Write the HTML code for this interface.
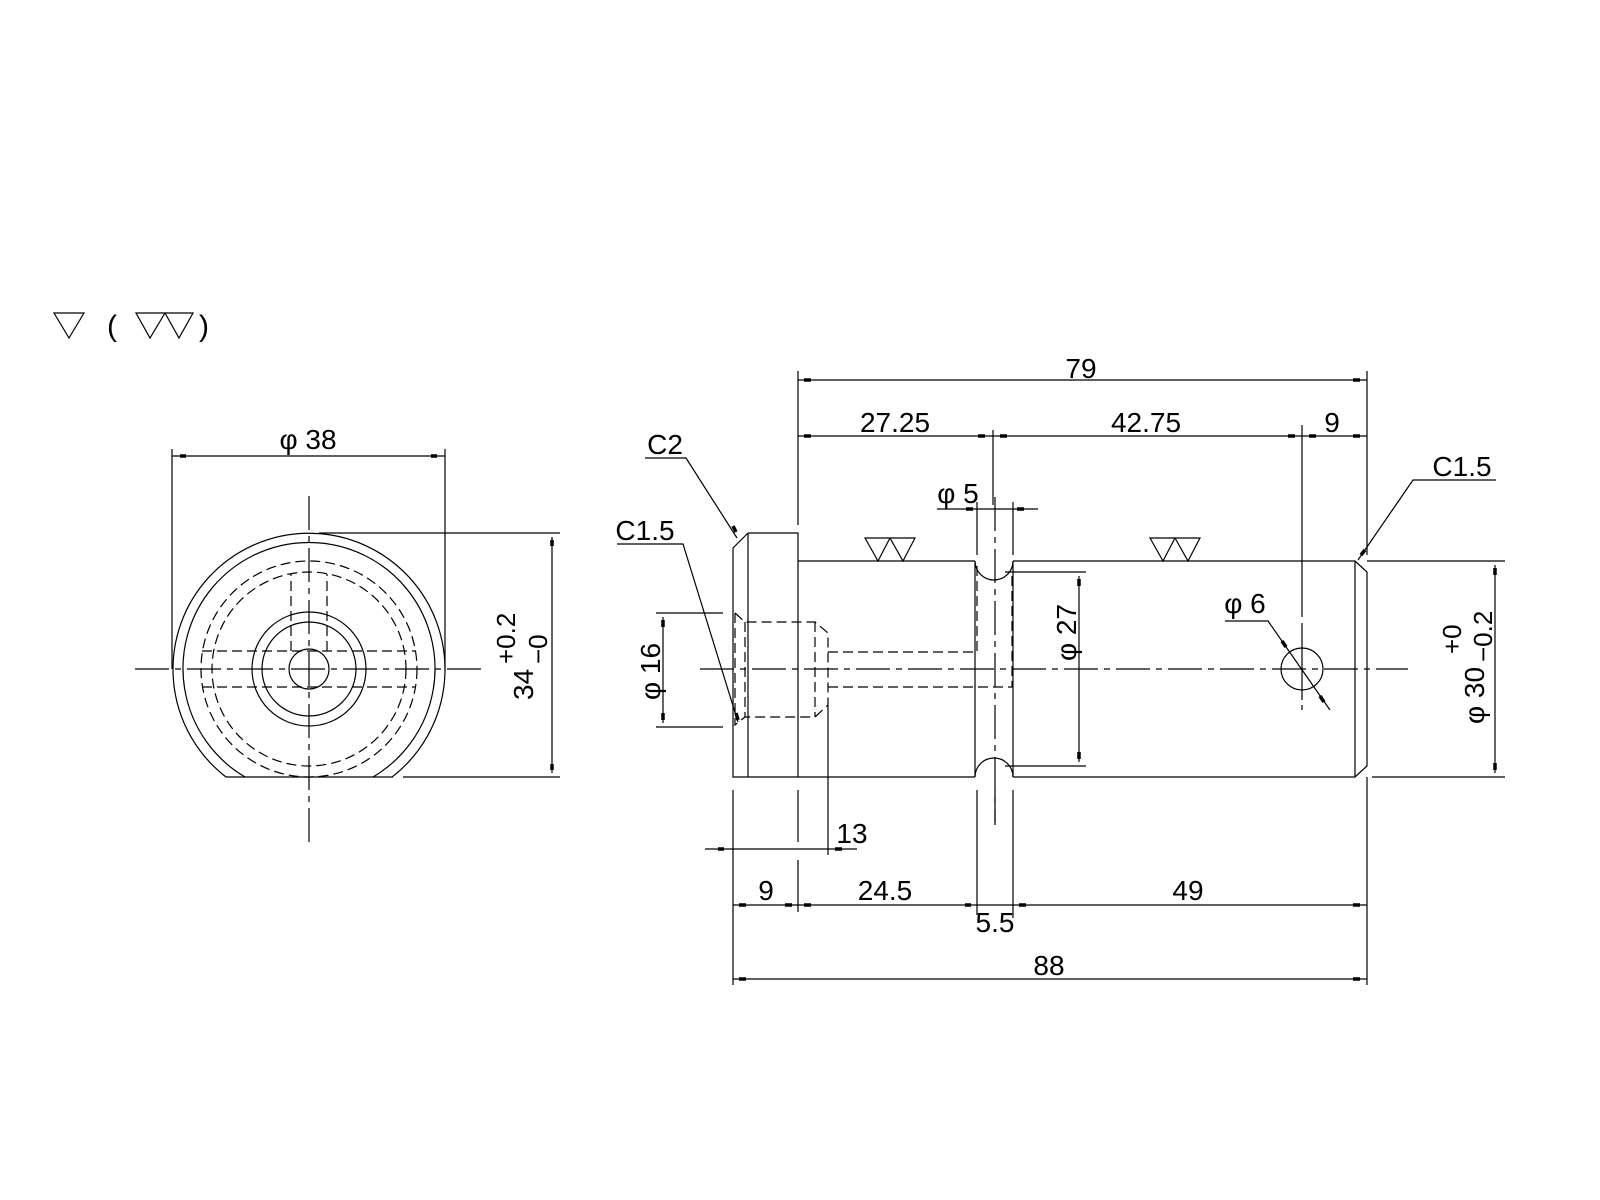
<!DOCTYPE html>
<html><head><meta charset="utf-8"><style>
html,body{margin:0;padding:0;background:#fff;}
svg{display:block;}
text{font-family:"Liberation Sans",sans-serif;fill:#000;}
</style></head><body>
<svg width="1600" height="1200" viewBox="0 0 1600 1200" xmlns="http://www.w3.org/2000/svg">
<rect width="1600" height="1200" fill="#fff"/>
<g stroke="#000" stroke-width="1.2" fill="none">
<polygon points="54,313 84,313 69,338"/>
<polygon points="136,313 165,313 150,338"/>
<polygon points="165,313 193,313 179,338"/>
</g>
<text x="107" y="336" font-size="30">(</text>
<text x="199" y="336" font-size="30">)</text>

<!-- ===== LEFT VIEW ===== -->
<g stroke="#000" stroke-width="1.2" fill="none">
<path d="M 226 777 A 136 136 0 1 1 392 777"/>
<path d="M 245 777 A 126 126 0 1 1 373 777"/>
<line x1="226" y1="777" x2="393" y2="777"/>
<circle cx="309" cy="669" r="57"/>
<circle cx="309" cy="669" r="47"/>
<circle cx="309" cy="669" r="20"/>
<g stroke-dasharray="10,5">
<circle cx="309" cy="669" r="108"/>
<circle cx="309" cy="669" r="97"/>
<polyline points="291,651 291,574"/>
<polyline points="327,651 327,574"/>
<line x1="202" y1="651" x2="416" y2="651"/>
<line x1="202" y1="687" x2="416" y2="687"/>
</g>
<g stroke-dasharray="34,6,6,6">
<line x1="135" y1="669" x2="482" y2="669"/>
<line x1="309" y1="496" x2="309" y2="843"/>
</g>
<line x1="172" y1="449" x2="172" y2="669"/>
<line x1="445" y1="449" x2="445" y2="669"/>
<line x1="172" y1="456" x2="445" y2="456"/>
<line x1="319" y1="533" x2="560" y2="533"/>
<line x1="403" y1="777" x2="560" y2="777"/>
<line x1="552" y1="537" x2="552" y2="773"/>
</g>
<g stroke="#000" stroke-width="3.5">
<line x1="180" y1="456" x2="186" y2="456"/><line x1="431" y1="456" x2="437" y2="456"/>
<line x1="552" y1="540" x2="552" y2="546"/><line x1="552" y1="764" x2="552" y2="770"/>
</g>
<text x="308" y="449" font-size="28" text-anchor="middle">φ 38</text>
<g transform="translate(533,700) rotate(-90)">
<text x="0" y="0" font-size="28">34</text>
<text x="36" y="-18" font-size="26">+0.2</text>
<text x="36" y="14" font-size="26">−0</text>
</g>

<!-- ===== RIGHT VIEW ===== -->
<g stroke="#000" stroke-width="1.2" fill="none">
<polyline points="748,533 798,533 798,777 733,777 733,548 748,533"/>
<line x1="748" y1="533" x2="748" y2="777"/>
<line x1="798" y1="561" x2="975" y2="561"/>
<line x1="798" y1="777" x2="975" y2="777"/>
<line x1="975" y1="561" x2="975" y2="777"/>
<path d="M 975 561 A 19 19 0 0 0 1013 561"/>
<path d="M 975 777 A 19 19 0 0 1 1013 777"/>
<line x1="1013" y1="561" x2="1013" y2="777"/>
<polyline points="1013,561 1355,561 1367,572 1367,766 1355,777 1013,777"/>
<line x1="1355" y1="561" x2="1355" y2="777"/>
<circle cx="1302" cy="669" r="21"/>
<g stroke-dasharray="10,5">
<polyline points="735,613 745,622 815,622 828,633 828,705 815,717 745,717 735,725 735,613"/>
<line x1="745" y1="622" x2="745" y2="717"/>
<line x1="815" y1="622" x2="815" y2="717"/>
<polyline points="828,652 977,652 977,566"/>
<polyline points="828,687 1012,687 1012,572"/>
</g>
<g stroke-dasharray="34,6,6,6">
<line x1="700" y1="669" x2="1408" y2="669"/>
<line x1="995" y1="497" x2="995" y2="822"/>
</g>
<line x1="1302" y1="425" x2="1302" y2="617"/>
<line x1="1302" y1="623" x2="1302" y2="700"/>
<line x1="1302" y1="705" x2="1302" y2="710"/>
<polygon points="865,538 890,538 878,561"/><polygon points="890,538 915,538 903,561"/>
<polygon points="1150,538 1175,538 1163,561"/><polygon points="1175,538 1200,538 1188,561"/>

<line x1="798" y1="371" x2="798" y2="525"/>
<line x1="1367" y1="371" x2="1367" y2="555"/>
<line x1="798" y1="380" x2="1367" y2="380"/>
<line x1="798" y1="436" x2="1367" y2="436"/>
<line x1="993" y1="430" x2="993" y2="505"/>
<line x1="977" y1="502" x2="977" y2="555"/>
<line x1="1013" y1="502" x2="1013" y2="555"/>
<line x1="937" y1="509" x2="1038" y2="509"/>
<polyline points="645,458 686,458 737,538"/>
<polyline points="617,544 683,544 738,722"/>
<polyline points="1496,480 1413,480 1358,560"/>
<polyline points="1225,621 1268,621 1330,710"/>
<line x1="656" y1="613" x2="723" y2="613"/>
<line x1="656" y1="727" x2="723" y2="727"/>
<line x1="663" y1="617" x2="663" y2="723"/>
<line x1="1005" y1="572" x2="1086" y2="572"/>
<line x1="1005" y1="766" x2="1086" y2="766"/>
<line x1="1079" y1="576" x2="1079" y2="762"/>
<line x1="1367" y1="561" x2="1505" y2="561"/>
<line x1="1372" y1="777" x2="1505" y2="777"/>
<line x1="1495" y1="565" x2="1495" y2="773"/>
<line x1="733" y1="790" x2="733" y2="985"/>
<line x1="798" y1="790" x2="798" y2="842"/>
<line x1="798" y1="860" x2="798" y2="912"/>
<line x1="828" y1="705" x2="828" y2="855"/>
<line x1="977" y1="790" x2="977" y2="915"/>
<line x1="1013" y1="790" x2="1013" y2="918"/>
<line x1="995" y1="790" x2="995" y2="825"/>
<line x1="1367" y1="777" x2="1367" y2="985"/>
<line x1="705" y1="849" x2="857" y2="849"/>
<line x1="733" y1="905" x2="1367" y2="905"/>
<line x1="733" y1="979" x2="1367" y2="979"/>
</g>
<g stroke="#000" stroke-width="3.5">
<line x1="804" y1="380" x2="811" y2="380"/><line x1="1353" y1="380" x2="1360" y2="380"/>
<line x1="804" y1="436" x2="811" y2="436"/><line x1="978" y1="436" x2="985" y2="436"/>
<line x1="1000" y1="436" x2="1007" y2="436"/><line x1="1288" y1="436" x2="1295" y2="436"/>
<line x1="1309" y1="436" x2="1316" y2="436"/><line x1="1353" y1="436" x2="1360" y2="436"/>
<line x1="966" y1="509" x2="973" y2="509"/><line x1="1017" y1="509" x2="1024" y2="509"/>
<line x1="663" y1="620" x2="663" y2="627"/><line x1="663" y1="713" x2="663" y2="720"/>
<line x1="1079" y1="579" x2="1079" y2="586"/><line x1="1079" y1="752" x2="1079" y2="759"/>
<line x1="1495" y1="568" x2="1495" y2="575"/><line x1="1495" y1="763" x2="1495" y2="770"/>
<line x1="718" y1="849" x2="724" y2="849"/><line x1="835" y1="849" x2="842" y2="849"/>
<line x1="739" y1="905" x2="746" y2="905"/><line x1="785" y1="905" x2="792" y2="905"/>
<line x1="804" y1="905" x2="811" y2="905"/><line x1="965" y1="905" x2="971" y2="905"/>
<line x1="1019" y1="905" x2="1026" y2="905"/><line x1="1353" y1="905" x2="1360" y2="905"/>
<line x1="739" y1="979" x2="746" y2="979"/><line x1="1353" y1="979" x2="1360" y2="979"/>
<line x1="733" y1="526" x2="736" y2="532"/>
<line x1="736" y1="713" x2="738" y2="720"/>
<line x1="1361" y1="555" x2="1365" y2="550"/>
<line x1="1282" y1="641" x2="1286" y2="647"/><line x1="1320" y1="696" x2="1324" y2="702"/>
</g>
<g font-size="28" text-anchor="middle">
<text x="1081" y="378">79</text>
<text x="895" y="432">27.25</text>
<text x="1146" y="432">42.75</text>
<text x="1332" y="432">9</text>
<text x="958" y="503">φ 5</text>
<text x="665" y="454">C2</text>
<text x="645" y="540">C1.5</text>
<text x="1462" y="476">C1.5</text>
<text x="1245" y="613">φ 6</text>
<text x="852" y="843">13</text>
<text x="766" y="900">9</text>
<text x="885" y="900">24.5</text>
<text x="1188" y="900">49</text>
<text x="995" y="932">5.5</text>
<text x="1049" y="975">88</text>
</g>
<text transform="translate(660,700) rotate(-90)" font-size="28">φ 16</text>
<text transform="translate(1076,661) rotate(-90)" font-size="28">φ 27</text>
<g transform="translate(1484,724) rotate(-90)">
<text x="0" y="0" font-size="28">φ 30</text>
<text x="70" y="-23" font-size="26">+0</text>
<text x="62" y="8" font-size="26">−0.2</text>
</g>
</svg>
</body></html>
